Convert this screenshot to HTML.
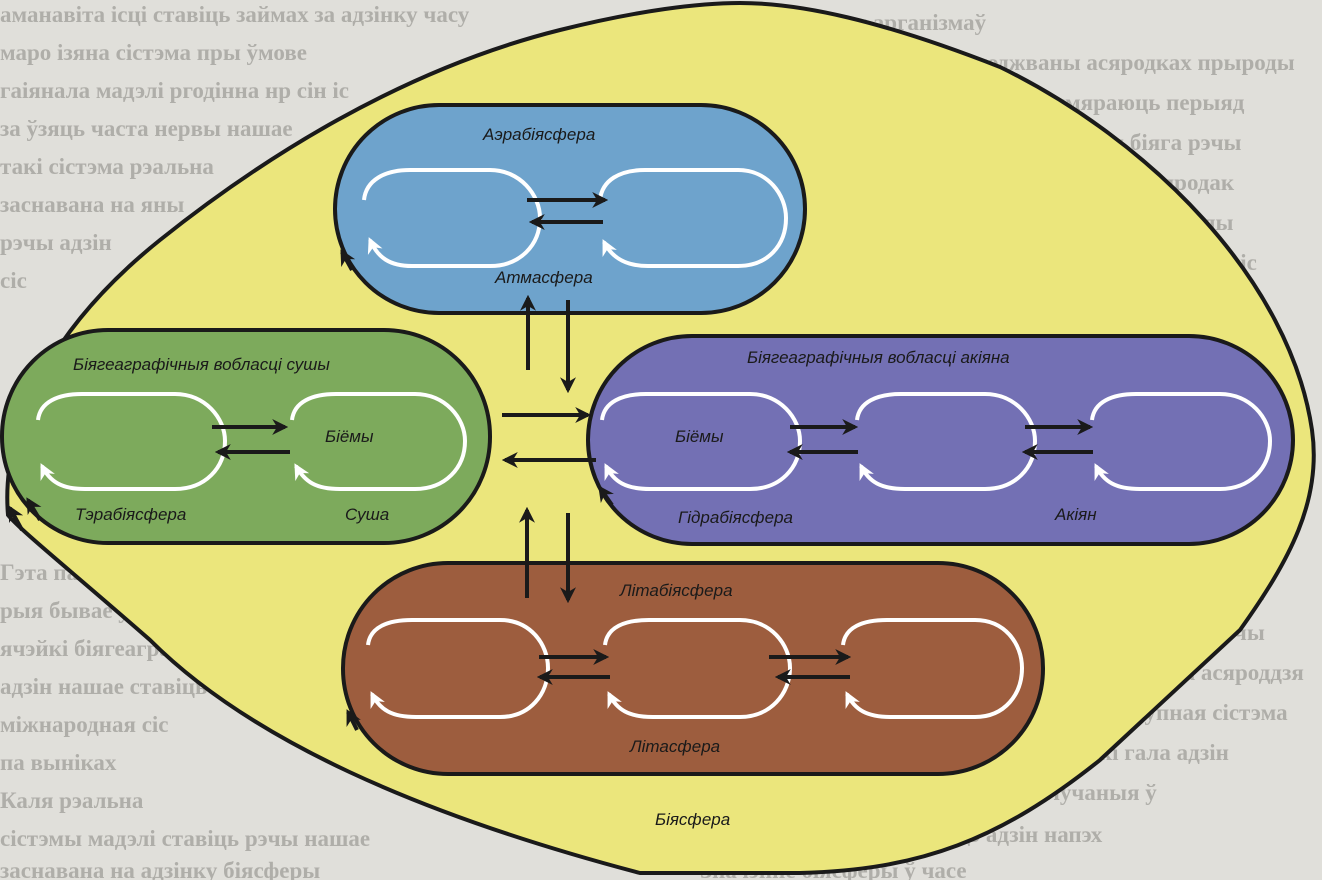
<!DOCTYPE html>
<html><head><meta charset="utf-8"><style>
html,body{margin:0;padding:0;background:#e0dfda;}
svg{display:block}
text{font-family:"Liberation Sans",sans-serif;font-style:italic;font-size:17px;fill:#1a1a1a}
.bg text{font-family:"Liberation Serif",serif;font-style:normal;font-size:23px;fill:#afaea9;font-weight:bold}
</style></head><body>
<svg width="1322" height="880" viewBox="0 0 1322 880" xmlns="http://www.w3.org/2000/svg">
<defs>
<marker id="ah" viewBox="0 0 10 10" refX="8" refY="5" markerWidth="4" markerHeight="4" orient="auto"><path d="M0,0 L10,5 L0,10 L3,5z" fill="#1a1a1a"/></marker>
<marker id="wh" viewBox="0 0 10 10" refX="8" refY="5" markerWidth="4" markerHeight="4" orient="auto"><path d="M0,0 L10,5 L0,10 L3,5z" fill="#fff"/></marker>
</defs>
<rect width="1322" height="880" fill="#e0dfda"/>
<g class="bg">
<text x="0" y="22">аманавіта ісці ставіць займах за адзінку часу</text>
<text x="0" y="60">маро ізяна сістэма пры ўмове</text>
<text x="0" y="98">гаіянала мадэлі ргодінна нр сін іс</text>
<text x="0" y="136">за ўзяць часта нервы нашае</text>
<text x="0" y="174">такі сістэма рэальна</text>
<text x="0" y="212">заснавана на яны</text>
<text x="0" y="250">рэчы адзін</text>
<text x="0" y="288">сіс</text>
<text x="720" y="30">эчыва жывых арганізмаў</text>
<text x="900" y="70">распаўсюджваны асяродках прыроды</text>
<text x="980" y="110">ці не вымяраюць перыяд</text>
<text x="1060" y="150">сістэм біяга рэчы</text>
<text x="1140" y="190">асяродак</text>
<text x="1180" y="230">вады</text>
<text x="1230" y="270">сіс</text>
<text x="0" y="580">Гэта паслядоўнасць розных сістэм наз</text>
<text x="0" y="618">рыя бывае ў рэальна сістэма</text>
<text x="0" y="656">ячэйкі біягеаграфічных напр</text>
<text x="0" y="694">адзін нашае ставіць</text>
<text x="0" y="732">міжнародная сіс</text>
<text x="0" y="770">па выніках</text>
<text x="0" y="808">Каля рэальна</text>
<text x="0" y="846">сістэмы мадэлі ставіць рэчы нашае</text>
<text x="0" y="878">заснавана на адзінку біясферы</text>
<text x="1230" y="560">ых</text>
<text x="1180" y="600">рэальна</text>
<text x="1130" y="640">сістэма рэчы</text>
<text x="1090" y="680">вада біяга асяроддзя</text>
<text x="1040" y="720">ізяна наступная сістэма</text>
<text x="990" y="760">нашае чаркі гала адзін</text>
<text x="900" y="800">адзін ізяна вылучаныя ў</text>
<text x="820" y="842">ісцэры маглацэ адзін напэх</text>
<text x="700" y="878">Значэнне біясферы ў часе</text>
</g>
<path d="M8,515 C0,420 60,320 160,240 C260,160 400,70 560,30 C640,10 700,3 740,3 C800,3 880,20 1000,67 C1150,140 1290,280 1312,430 C1322,500 1290,560 1240,630 L1100,760 C1000,840 920,870 800,873 L640,873 C420,815 250,740 150,640 C70,570 20,530 8,515Z" fill="#ebe67c" stroke="#1a1a1a" stroke-width="4"/>
<rect x="335" y="105" width="470" height="208" rx="104" fill="#6ea3cc" stroke="#1a1a1a" stroke-width="4"/>
<rect x="2" y="330" width="488" height="213" rx="106" fill="#7daa5c" stroke="#1a1a1a" stroke-width="4"/>
<rect x="588" y="336" width="705" height="208" rx="104" fill="#7370b4" stroke="#1a1a1a" stroke-width="4"/>
<rect x="343" y="563" width="700" height="211" rx="105" fill="#9d5d3e" stroke="#1a1a1a" stroke-width="4"/>
<g fill="none" stroke="#fff" stroke-width="4" marker-end="url(#wh)">
<path d="M364,200 C366,180 385,170 410,170 L490,170 C520,170 540,195 540,218 C540,245 520,266 490,266 L412,266 C390,266 378,258 370,240"/>
<path d="M600,200 C602,180 620,170 645,170 L738,170 C768,170 786,195 786,218 C786,245 768,266 738,266 L648,266 C626,266 612,258 604,242"/>
<path d="M38,420 C40,402 58,394 82,394 L175,394 C205,394 225,418 225,441 C225,468 205,489 175,489 L85,489 C62,489 50,482 42,466"/>
<path d="M292,420 C294,402 312,394 336,394 L415,394 C445,394 465,418 465,441 C465,468 445,489 415,489 L340,489 C316,489 305,482 296,466"/>
<path d="M602,420 C604,402 622,394 646,394 L750,394 C780,394 800,418 800,441 C800,468 780,489 750,489 L650,489 C626,489 614,482 606,466"/>
<path d="M857,420 C859,402 877,394 901,394 L985,394 C1015,394 1035,418 1035,441 C1035,468 1015,489 985,489 L905,489 C881,489 869,482 861,466"/>
<path d="M1092,420 C1094,402 1112,394 1136,394 L1220,394 C1250,394 1270,418 1270,441 C1270,468 1250,489 1220,489 L1140,489 C1116,489 1104,482 1096,466"/>
<path d="M368,645 C370,627 388,620 412,620 L500,620 C530,620 548,644 548,668 C548,694 530,717 500,717 L416,717 C392,717 380,710 372,694"/>
<path d="M605,645 C607,627 625,620 649,620 L740,620 C770,620 790,644 790,668 C790,694 770,717 740,717 L653,717 C629,717 617,710 609,694"/>
<path d="M843,645 C845,627 863,620 887,620 L975,620 C1005,620 1022,644 1022,668 C1022,694 1005,717 975,717 L891,717 C867,717 855,710 847,694"/>
</g>
<g stroke="#1a1a1a" stroke-width="4" fill="none" marker-end="url(#ah)">
<line x1="527" y1="200" x2="605" y2="200"/><line x1="603" y1="222" x2="532" y2="222"/>
<line x1="212" y1="427" x2="285" y2="427"/><line x1="290" y1="452" x2="218" y2="452"/>
<line x1="790" y1="427" x2="855" y2="427"/><line x1="858" y1="452" x2="790" y2="452"/>
<line x1="1025" y1="427" x2="1090" y2="427"/><line x1="1093" y1="452" x2="1025" y2="452"/>
<line x1="539" y1="657" x2="606" y2="657"/><line x1="610" y1="677" x2="540" y2="677"/>
<line x1="769" y1="657" x2="848" y2="657"/><line x1="850" y1="677" x2="778" y2="677"/>
<line x1="528" y1="370" x2="528" y2="298"/><line x1="568" y1="300" x2="568" y2="390"/>
<line x1="502" y1="415" x2="588" y2="415"/><line x1="596" y1="460" x2="505" y2="460"/>
<line x1="527" y1="598" x2="527" y2="510"/><line x1="568" y1="513" x2="568" y2="600"/>
<line x1="352" y1="270" x2="342" y2="252"/>
<line x1="40" y1="520" x2="28" y2="500"/>
<line x1="612" y1="505" x2="600" y2="488"/>
<line x1="357" y1="730" x2="348" y2="712"/>
<line x1="22" y1="530" x2="10" y2="508"/>
</g>
<text x="483" y="140">Аэрабіясфера</text>
<text x="495" y="283">Атмасфера</text>
<text x="73" y="370">Біягеаграфічныя вобласці сушы</text>
<text x="325" y="442">Біёмы</text>
<text x="75" y="520">Тэрабіясфера</text>
<text x="345" y="520">Суша</text>
<text x="747" y="363">Біягеаграфічныя вобласці акіяна</text>
<text x="675" y="442">Біёмы</text>
<text x="678" y="523">Гідрабіясфера</text>
<text x="1055" y="520">Акіян</text>
<text x="620" y="596">Літабіясфера</text>
<text x="630" y="752">Літасфера</text>
<text x="655" y="825">Біясфера</text>
</svg>
</body></html>
